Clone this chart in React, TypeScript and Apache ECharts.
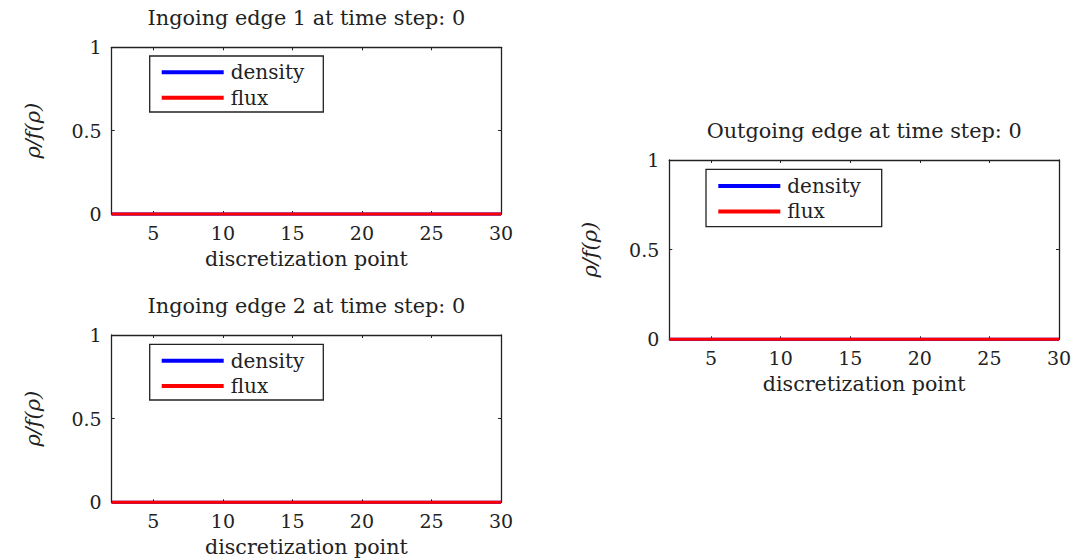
import React, { useEffect, useRef } from "react";
import * as echarts from "echarts";

// discretization points
const xPoints = [2, 3, 4, 5, 6, 7, 8, 9, 10, 11, 12, 13, 14, 15, 16, 17, 18, 19, 20, 21, 22, 23, 24, 25, 26, 27, 28, 29, 30];
// values at time step 0
const densityIn1 = [0, 0, 0, 0, 0, 0, 0, 0, 0, 0, 0, 0, 0, 0, 0, 0, 0, 0, 0, 0, 0, 0, 0, 0, 0, 0, 0, 0, 0];
const fluxIn1 = [0, 0, 0, 0, 0, 0, 0, 0, 0, 0, 0, 0, 0, 0, 0, 0, 0, 0, 0, 0, 0, 0, 0, 0, 0, 0, 0, 0, 0];
const densityIn2 = [0, 0, 0, 0, 0, 0, 0, 0, 0, 0, 0, 0, 0, 0, 0, 0, 0, 0, 0, 0, 0, 0, 0, 0, 0, 0, 0, 0, 0];
const fluxIn2 = [0, 0, 0, 0, 0, 0, 0, 0, 0, 0, 0, 0, 0, 0, 0, 0, 0, 0, 0, 0, 0, 0, 0, 0, 0, 0, 0, 0, 0];
const densityOut = [0, 0, 0, 0, 0, 0, 0, 0, 0, 0, 0, 0, 0, 0, 0, 0, 0, 0, 0, 0, 0, 0, 0, 0, 0, 0, 0, 0, 0];
const fluxOut = [0, 0, 0, 0, 0, 0, 0, 0, 0, 0, 0, 0, 0, 0, 0, 0, 0, 0, 0, 0, 0, 0, 0, 0, 0, 0, 0, 0, 0];

const xTickValues = [5, 10, 15, 20, 25, 30];
const yTickValues = [0, 0.5, 1];
const titles = [
  "Ingoing edge 1 at time step: 0",
  "Ingoing edge 2 at time step: 0",
  "Outgoing edge at time step: 0",
];
const xName = "discretization point";
const yName = "ρ/f(ρ)";
const seriesNames = ["density", "flux"];

const FONT = "DejaVu Serif";
const TXT = "#222";
const AXC = "#222";

export default function App() {
  const ref = useRef<HTMLDivElement>(null);
  useEffect(() => {
    if (!ref.current) return;
    const chart = echarts.init(ref.current, undefined, { renderer: "svg" });

    const grids = [
      { left: 111.7, top: 47.3, width: 389.3, height: 166.7 },
      { left: 111.7, top: 335, width: 389.3, height: 167.3 },
      { left: 669.3, top: 160, width: 389.7, height: 179.3 },
    ];
    const dataSets = [
      [densityIn1, fluxIn1],
      [densityIn2, fluxIn2],
      [densityOut, fluxOut],
    ];
    const legendPos = [
      { left: 161.7, top: 61.3 },
      { left: 161.7, top: 349.7 },
      { left: 718.3, top: 175 },
    ];
    const legendBoxes = [
      { x: 149.7, y: 56, width: 173.6, height: 56 },
      { x: 149.7, y: 344.3, width: 173.6, height: 55.7 },
      { x: 706, y: 169.3, width: 175.7, height: 57.4 },
    ];

    const xAxes: any[] = [];
    const yAxes: any[] = [];
    const series: any[] = [];
    const legends: any[] = [];

    grids.forEach((g, i) => {
      const common = {
        type: "value",
        gridIndex: i,
        min: 2,
        max: 30,
        splitLine: { show: false },
        axisLine: { show: true, onZero: false, lineStyle: { color: AXC, width: 1.3 } },
      };
      xAxes.push({
        ...common,
        position: "bottom",
        name: xName,
        nameLocation: "middle",
        nameGap: 34,
        nameTextStyle: { fontFamily: FONT, fontSize: 20.6, color: TXT, lineHeight: 22, verticalAlign: "top" },
        axisTick: { show: true, inside: true, length: 3, customValues: xTickValues, lineStyle: { color: AXC } },
        axisLabel: { show: true, customValues: xTickValues, margin: 9, fontFamily: FONT, fontSize: 19, color: TXT },
      });
      xAxes.push({
        ...common,
        position: "top",
        name: titles[i],
        nameLocation: "middle",
        nameGap: 18,
        nameTextStyle: { fontFamily: FONT, fontSize: 20.8, color: TXT, lineHeight: 22 },
        axisTick: { show: true, inside: true, length: 3, customValues: xTickValues, lineStyle: { color: AXC } },
        axisLabel: { show: false },
      });
      const ycommon = {
        type: "value",
        gridIndex: i,
        min: 0,
        max: 1,
        interval: 0.5,
        splitLine: { show: false },
        axisLine: { show: true, onZero: false, lineStyle: { color: AXC, width: 1.3 } },
      };
      yAxes.push({
        ...ycommon,
        position: "left",
        name: yName,
        nameLocation: "middle",
        nameGap: 68,
        nameRotate: 90,
        nameTextStyle: { fontFamily: FONT, fontSize: 21, fontStyle: "italic", color: TXT, lineHeight: 22 },
        axisTick: { show: true, inside: true, length: 3, customValues: yTickValues, lineStyle: { color: AXC } },
        axisLabel: { show: true, customValues: yTickValues, margin: 10, fontFamily: FONT, fontSize: 19, color: TXT },
      });
      yAxes.push({
        ...ycommon,
        position: "right",
        axisTick: { show: true, inside: true, length: 3, customValues: yTickValues, lineStyle: { color: AXC } },
        axisLabel: { show: false },
      });

      const colors = ["#0000ff", "#ff0000"];
      dataSets[i].forEach((vals, k) => {
        series.push({
          type: "line",
          name: seriesNames[k],
          xAxisIndex: 2 * i,
          yAxisIndex: 2 * i,
          data: xPoints.map((x, j) => [x, vals[j]]),
          symbol: "none",
          clip: false,
          color: colors[k],
          lineStyle: { color: colors[k], width: 3 },
          z: 3 + k,
        });
      });

      legends.push({
        id: "lg" + i,
        orient: "vertical",
        left: legendPos[i].left,
        top: legendPos[i].top,
        padding: 0,
        itemGap: 3.4,
        itemWidth: 62,
        itemHeight: 4,
        icon: "rect",
        data: seriesNames,
        selectedMode: false,
        textStyle: { fontFamily: FONT, fontSize: 20, color: TXT, lineHeight: 22, padding: [0, 0, 0, 2] },
      });
    });

    const graphics = legendBoxes.map((b) => ({
      type: "rect",
      shape: { x: b.x, y: b.y, width: b.width, height: b.height },
      style: { fill: "none", stroke: "#222", lineWidth: 1.3 },
      z: 10,
    }));

    chart.setOption({
      animation: false,
      backgroundColor: "#ffffff",
      grid: grids,
      xAxis: xAxes,
      yAxis: yAxes,
      series,
      legend: legends,
      graphic: graphics,
    });
    return () => chart.dispose();
  }, []);
  return (
    <div
      ref={ref}
      style={{ position: "absolute", left: 0, top: 0, width: 1075, height: 560 }}
    />
  );
}
